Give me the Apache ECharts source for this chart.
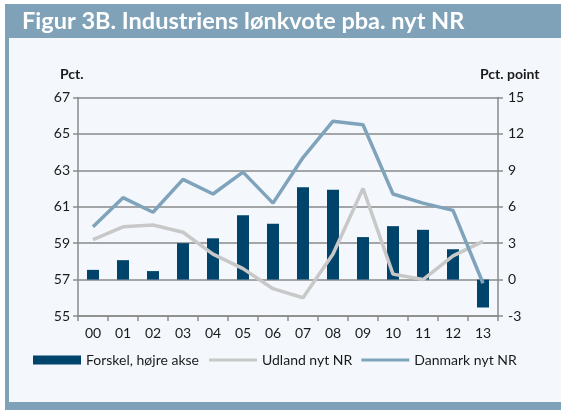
<!DOCTYPE html>
<html>
<head>
<meta charset="utf-8">
<style>
  html, body { margin: 0; padding: 0; background: #ffffff; }
  #chart { width: 561px; height: 410px; }
</style>
<script src="https://cdn.jsdelivr.net/npm/echarts@6/dist/echarts.min.js"></script>
</head>
<body>
<div id="chart"></div>
<script>
  // data
  var years = ['00', '01', '02', '03', '04', '05', '06', '07', '08', '09', '10', '11', '12', '13'];
  var forskel = [0.8, 1.6, 0.7, 3.0, 3.4, 5.3, 4.6, 7.6, 7.4, 3.5, 4.4, 4.1, 2.5, -2.3]; // pct. point, right axis
  var udland = [59.2, 59.9, 60.0, 59.6, 58.4, 57.6, 56.5, 56.0, 58.4, 62.0, 57.3, 57.0, 58.3, 59.1]; // pct.
  var danmark = [59.9, 61.5, 60.7, 62.5, 61.7, 62.9, 61.2, 63.7, 65.7, 65.5, 61.7, 61.2, 60.8, 56.8]; // pct.

  // left axis runs 55..67 in steps of 2; shift it so the ticks start at 0
  var LEFT_MIN = 55;
  var LEFT_MAX = 67;

  var font = 'Lato';
  var axisGrey = '#8a8a8a';
  var textCol = '#1a1a1a';
  var legendText = { fontFamily: font, fontSize: 14, color: textCol };

  var chart = echarts.init(document.getElementById('chart'));

  var option = {
    animation: false,
    textStyle: { fontFamily: font },
    graphic: [
      { type: 'rect', shape: { x: 9, y: 38, width: 552, height: 364 }, style: { fill: '#f4f8fc' }, silent: true },
      { type: 'rect', shape: { x: 5, y: 4, width: 556, height: 34 }, style: { fill: '#7fa2b8' }, silent: true },
      { type: 'rect', shape: { x: 5, y: 4, width: 4, height: 406 }, style: { fill: '#7fa2b8' }, silent: true },
      { type: 'rect', shape: { x: 5, y: 402, width: 556, height: 8 }, style: { fill: '#7fa2b8' }, silent: true },
      {
        type: 'text', left: 22, top: 9,
        style: { text: 'Figur 3B. Industriens lønkvote pba. nyt NR', fill: '#ffffff', font: 'bold 23.5px ' + font }
      },
      {
        type: 'text', left: 60, top: 67,
        style: { text: 'Pct.', fill: textCol, font: 'bold 14px ' + font }
      },
      {
        type: 'text', left: 480, top: 67,
        style: { text: 'Pct. point', fill: textCol, font: 'bold 14px ' + font }
      }
    ],
    grid: { left: 78, right: 63, top: 97.5, bottom: 94 },
    legend: [
      {
        left: 28, top: 348,
        itemWidth: 48, itemHeight: 9,
        textStyle: legendText,
        data: [{ name: 'Forskel, højre akse', icon: 'rect' }]
      },
      {
        left: 204, top: 348,
        itemWidth: 48, itemHeight: 3, itemGap: 9,
        textStyle: legendText,
        data: [
          { name: 'Udland nyt NR', icon: 'rect' },
          { name: 'Danmark nyt NR', icon: 'rect' }
        ]
      }
    ],
    xAxis: {
      type: 'category',
      data: years,
      axisLine: { show: true, lineStyle: { color: axisGrey, width: 1.5 } },
      axisTick: { show: true, length: 5, alignWithLabel: false, lineStyle: { color: axisGrey, width: 1.5 } },
      axisLabel: { color: textCol, fontSize: 14, margin: 10 },
      splitLine: { show: false }
    },
    yAxis: [
      {
        type: 'value',
        min: 0, max: LEFT_MAX - LEFT_MIN, interval: 2,
        axisLine: { show: true, lineStyle: { color: axisGrey, width: 1.5 } },
        axisTick: { show: true, length: 5, lineStyle: { color: axisGrey, width: 1.5 } },
        axisLabel: { color: textCol, fontSize: 14, margin: 8, formatter: function (v) { return v + LEFT_MIN; } },
        splitLine: { show: true, lineStyle: { color: axisGrey, width: 1.5 } }
      },
      {
        type: 'value',
        min: -3, max: 15, interval: 3,
        axisLine: { show: true, lineStyle: { color: axisGrey, width: 1.5 } },
        axisTick: { show: true, length: 5, lineStyle: { color: axisGrey, width: 1.5 } },
        axisLabel: { color: textCol, fontSize: 14, margin: 10 },
        splitLine: { show: false }
      }
    ],
    series: [
      {
        name: 'Forskel, højre akse',
        type: 'bar',
        yAxisIndex: 1,
        barWidth: 12,
        itemStyle: { color: '#00436b' },
        data: forskel
      },
      {
        name: 'Udland nyt NR',
        type: 'line',
        yAxisIndex: 0,
        symbol: 'none',
        lineStyle: { color: '#c8c8c8', width: 3.5 },
        itemStyle: { color: '#c8c8c8' },
        data: udland.map(function (v) { return v - LEFT_MIN; })
      },
      {
        name: 'Danmark nyt NR',
        type: 'line',
        yAxisIndex: 0,
        symbol: 'none',
        lineStyle: { color: '#7fa3bb', width: 3.5 },
        itemStyle: { color: '#7fa3bb' },
        data: danmark.map(function (v) { return v - LEFT_MIN; })
      }
    ]
  };

  chart.setOption(option);
</script>
</body>
</html>
